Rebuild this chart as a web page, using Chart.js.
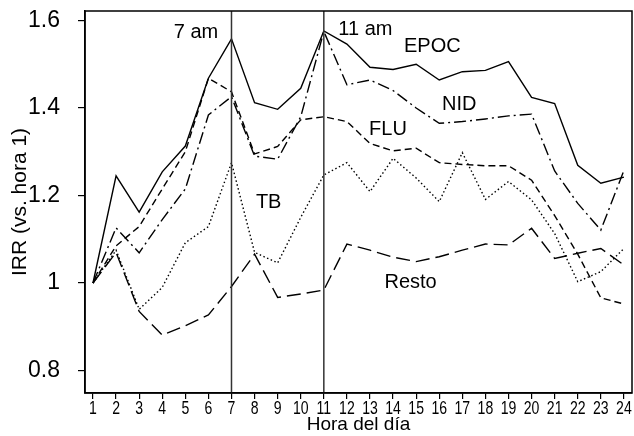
<!DOCTYPE html>
<html>
<head>
<meta charset="utf-8">
<script src="https://cdn.jsdelivr.net/npm/chart.js@4.4.1/dist/chart.umd.min.js"></script>
<style>
  body { margin: 0; background: #fff; }
  #wrap { width: 634px; height: 436px; }
</style>
</head>
<body>
<div id="wrap"><canvas id="myChart"></canvas></div>
<script>
const hours = [1, 2, 3, 4, 5, 6, 7, 8, 9, 10, 11, 12, 13, 14, 15, 16, 17, 18, 19, 20, 21, 22, 23, 24];

const epoc = [1.0, 1.245, 1.162, 1.254, 1.313, 1.468, 1.558, 1.412, 1.397, 1.445, 1.576, 1.546,
  1.493, 1.488, 1.5, 1.464, 1.483, 1.486, 1.506, 1.424, 1.41, 1.269, 1.228, 1.242];
const nid = [1.0, 1.126, 1.069, 1.145, 1.215, 1.384, 1.426, 1.29, 1.283, 1.38, 1.575, 1.453,
  1.464, 1.44, 1.4, 1.365, 1.369, 1.375, 1.382, 1.386, 1.256, 1.182, 1.121, 1.257];
const flu = [1.0, 1.085, 1.129, 1.215, 1.3, 1.468, 1.437, 1.295, 1.312, 1.373, 1.38, 1.369,
  1.319, 1.302, 1.308, 1.275, 1.271, 1.268, 1.268, 1.235, 1.154, 1.066, 0.966, 0.952];
const tb = [1.0, 1.075, 0.94, 0.99, 1.092, 1.129, 1.275, 1.07, 1.046, 1.15, 1.247, 1.275,
  1.209, 1.285, 1.24, 1.186, 1.298, 1.191, 1.232, 1.19, 1.113, 1.003, 1.026, 1.079];
const resto = [1.0, 1.07, 0.935, 0.881, 0.902, 0.927, 0.992, 1.066, 0.967, 0.975, 0.984, 1.089,
  1.075, 1.059, 1.049, 1.06, 1.075, 1.089, 1.087, 1.125, 1.056, 1.068, 1.079, 1.041];

const yTicks = [0.8, 1, 1.2, 1.4, 1.6];
const markHours = [7, 11];

// text written inside the plot (x = hour, y = IRR at the baseline)
const notes = [
  { text: "7 am", x: 5.46, y: 1.559 },
  { text: "11 am", x: 12.8, y: 1.567 },
  { text: "EPOC", x: 15.7, y: 1.528 },
  { text: "NID", x: 16.87, y: 1.395 },
  { text: "FLU", x: 13.78, y: 1.338 },
  { text: "TB", x: 8.61, y: 1.171 },
  { text: "Resto", x: 14.76, y: 0.989 },
];

function points(values) {
  return hours.map((h, i) => ({ x: h, y: values[i] }));
}

function serie(label, values, dash) {
  return {
    label: label,
    data: points(values),
    borderColor: "#000",
    borderWidth: 1.4,
    borderDash: dash,
    pointRadius: 0,
    tension: 0,
    fill: false,
  };
}

const extras = {
  id: "extras",
  afterDatasetsDraw(chart) {
    const ctx = chart.ctx;
    const area = chart.chartArea;
    const xs = chart.scales.x;
    const ys = chart.scales.y;
    ctx.save();
    ctx.strokeStyle = "#333";
    ctx.lineWidth = 1.5;
    markHours.forEach((h) => {
      const px = xs.getPixelForValue(h);
      ctx.beginPath();
      ctx.moveTo(px, area.top);
      ctx.lineTo(px, area.bottom);
      ctx.stroke();
    });
    ctx.strokeStyle = "#000";
    ctx.strokeRect(area.left, area.top, area.right - area.left, area.bottom - area.top);
    ctx.fillStyle = "#000";
    ctx.font = "20px 'Liberation Sans', Arial, sans-serif";
    ctx.textAlign = "center";
    ctx.textBaseline = "alphabetic";
    notes.forEach((n) => {
      ctx.fillText(n.text, xs.getPixelForValue(n.x), ys.getPixelForValue(n.y));
    });
    // hour labels, narrow like the original
    ctx.font = "19px 'Liberation Sans', Arial, sans-serif";
    hours.forEach((h) => {
      ctx.save();
      ctx.translate(xs.getPixelForValue(h), area.bottom + 21);
      ctx.scale(0.74, 1);
      ctx.fillText(String(h), 0, 0);
      ctx.restore();
    });
    ctx.restore();
  },
};

new Chart(document.getElementById("myChart"), {
  type: "line",
  data: {
    datasets: [
      serie("EPOC", epoc, []),
      serie("NID", nid, [12, 4, 2, 4]),
      serie("FLU", flu, [7, 4]),
      serie("TB", tb, [1.5, 2.5]),
      serie("Resto", resto, [14, 6]),
    ],
  },
  options: {
    responsive: true,
    maintainAspectRatio: false,
    animation: false,
    layout: { padding: { left: 0, top: 11, right: 2, bottom: 0 } },
    plugins: { legend: { display: false }, tooltip: { enabled: false } },
    scales: {
      x: {
        type: "linear",
        min: 0.654,
        max: 24.35,
        afterBuildTicks: (scale) => {
          scale.ticks = hours.map((h) => ({ value: h }));
        },
        afterFit: (scale) => {
          scale.height = 43;
          scale.paddingLeft = 0;
          scale.paddingRight = 0;
        },
        ticks: { display: false, autoSkip: false, maxRotation: 0 },
        grid: { display: true, drawOnChartArea: false, drawTicks: true, tickLength: 6, color: "#000", lineWidth: 1.2 },
        border: { display: true, color: "#000", width: 1.5 },
        title: {
          display: true,
          text: "Hora del día",
          color: "#000",
          padding: { top: 0, bottom: 0 },
          font: { family: "'Liberation Sans', Arial, sans-serif", size: 19 },
        },
      },
      y: {
        type: "linear",
        min: 0.7486,
        max: 1.6217,
        afterBuildTicks: (scale) => {
          scale.ticks = yTicks.map((v) => ({ value: v }));
        },
        afterFit: (scale) => {
          scale.width = 85;
          scale.paddingTop = 0;
          scale.paddingBottom = 0;
        },
        ticks: {
          padding: 18,
          color: "#000",
          font: { family: "'Liberation Sans', Arial, sans-serif", size: 23 },
          callback: (v) => (v === 1 ? "1" : v.toFixed(1)),
        },
        grid: { display: true, drawOnChartArea: false, drawTicks: true, tickLength: 7, color: "#000", lineWidth: 1.2 },
        border: { display: true, color: "#000", width: 1.5 },
        title: {
          display: true,
          text: "IRR (vs. hora 1)",
          color: "#000",
          padding: { top: 8, bottom: 0 },
          font: { family: "'Liberation Sans', Arial, sans-serif", size: 21 },
        },
      },
    },
  },
  plugins: [extras],
});
</script>
</body>
</html>
